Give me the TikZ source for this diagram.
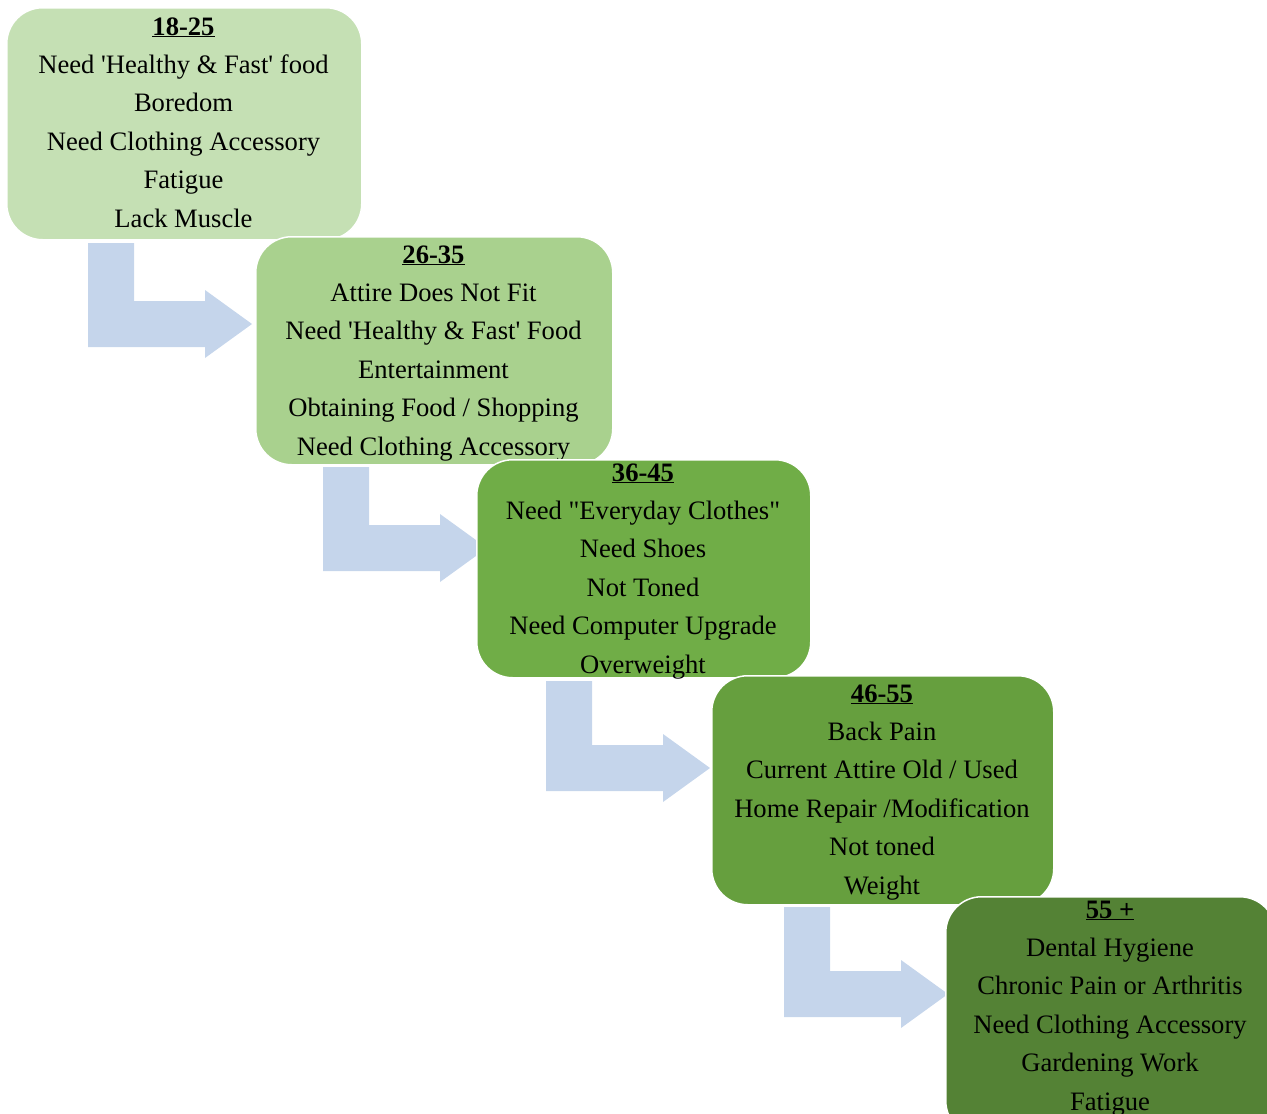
\documentclass[tikz,border=0pt]{standalone}
\usepackage{fontspec}
\setmainfont{Liberation Serif}
\definecolor{ageone}{HTML}{C5E0B4}
\definecolor{agetwo}{HTML}{A9D18E}
\definecolor{agethree}{HTML}{70AD47}
\definecolor{agefour}{HTML}{669F3E}
\definecolor{agefive}{HTML}{548235}
\definecolor{flowblue}{HTML}{C5D5EB}
\newcommand{\agehead}[1]{\textbf{\underline{#1}}}
\begin{document}
\begin{tikzpicture}[x=1pt, y=-1pt,
    agebox/.style={draw=white, line width=1.5pt, rounded corners=36pt, anchor=north west, inner sep=0pt},
    needs/.style={align=center, anchor=base, inner sep=0pt, font=\fontsize{26.6pt}{38.4pt}\selectfont}]
  \useasboundingbox (0,0) rectangle (1267,1114);

  \foreach \ax/\ay/\ah in {88/243/104, 323/467/104, 546/681/110, 784/907/110}
    \fill[flowblue, shift={(\ax,\ay)}] (0,0) -- (46,0) -- (46,\ah-46) -- (117,\ah-46) -- (117,\ah-57)
      -- (164,\ah-23) -- (117,\ah+11) -- (117,\ah) -- (0,\ah) -- cycle;

  \node[agebox, fill=ageone, minimum width=355pt, minimum height=232pt] (b1) at (6,7) {};
  \node[needs] (n1) at (183.5,227) {\agehead{18-25}\\Need \textquotesingle Healthy \& Fast\textquotesingle\ food\\Boredom\\Need Clothing Accessory\\Fatigue\\Lack Muscle};

  \node[agebox, fill=agetwo, minimum width=357pt, minimum height=228pt] (b2) at (255,236) {};
  \node[needs] (n2) at (433.5,455) {\agehead{26-35}\\Attire Does Not Fit\\Need \textquotesingle Healthy \& Fast\textquotesingle\ Food\\Entertainment\\Obtaining Food / Shopping\\Need Clothing Accessory};

  \node[agebox, fill=agethree, minimum width=334pt, minimum height=218pt] (b3) at (476,459) {};
  \node[needs] (n3) at (643,673) {\agehead{36-45}\\Need \textquotedbl Everyday Clothes\textquotedbl\\Need Shoes\\Not Toned\\Need Computer Upgrade\\Overweight};

  \node[agebox, fill=agefour, minimum width=342pt, minimum height=229pt] (b4) at (711,675) {};
  \node[needs] (n4) at (882,894) {\agehead{46-55}\\Back Pain\\Current Attire Old / Used\\Home Repair /Modification\\Not toned\\Weight};

  \node[agebox, fill=agefive, minimum width=330pt, minimum height=240pt] (b5) at (945,896) {};
  \node[needs] (n5) at (1110,1110) {\agehead{55 +}\\Dental Hygiene\\Chronic Pain or Arthritis\\Need Clothing Accessory\\Gardening Work\\Fatigue};
\end{tikzpicture}
\end{document}
